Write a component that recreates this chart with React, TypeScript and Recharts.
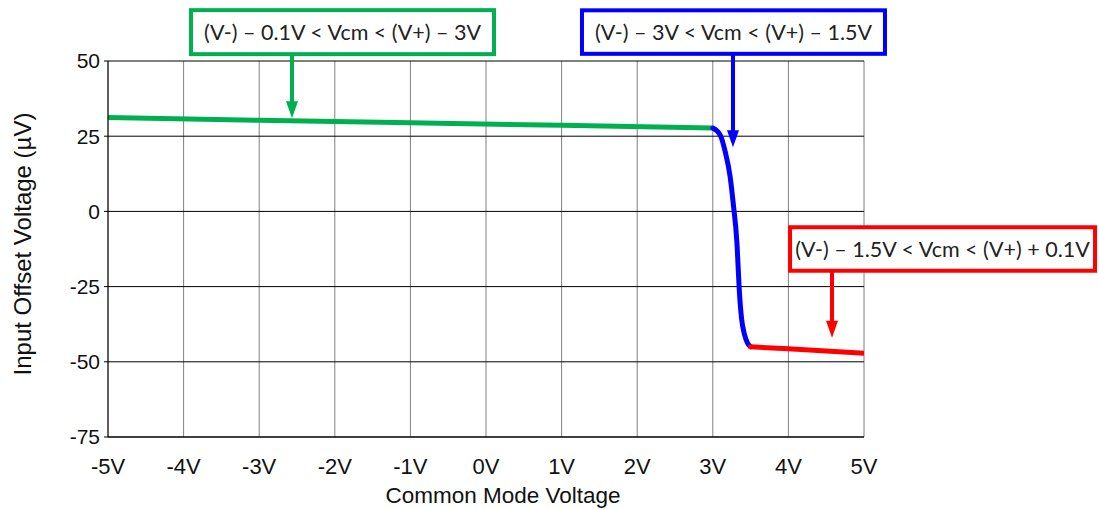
import React from 'react';
import { LineChart, Line, XAxis, YAxis, CartesianGrid, ReferenceDot } from 'recharts';

// Vcm (V) / Vos (uV), one array per region
const greenVcm = [-5, -3, -1, 1, 3];
const greenVos = [31.2, 30.3, 29.5, 28.6, 27.7];

const blueVcm = [3.0, 3.1, 3.16, 3.23, 3.27, 3.32, 3.35, 3.38, 3.42, 3.46, 3.5];
const blueVos = [27.7, 25.3, 20.3, 11.4, 2.7, -10.7, -26, -35.5, -41, -43.8, -45];

const redVcm = [3.5, 4, 4.5, 5];
const redVos = [-45, -45.7, -46.4, -47.2];

const xTicks = [-5, -4, -3, -2, -1, 0, 1, 2, 3, 4, 5];
const yTicks = [-75, -50, -25, 0, 25, 50];

// callout texts and where their arrows point (data coords)
const calloutText = [
  '(V-) – 0.1V < Vcm < (V+) – 3V',
  '(V-) – 3V < Vcm < (V+) – 1.5V',
  '(V-) – 1.5V < Vcm < (V+) + 0.1V',
];
const calloutVcm = [-2.566, 3.267, 4.577];
const calloutVos = [31, 21.3, -42];

const GREEN = '#00B050';
const BLUE = '#0000FF';
const RED = '#FF0000';
const calloutColor = [GREEN, BLUE, RED];
// box edges relative to arrow tip, px
const calloutBox = [
  { left: -101, right: 202, top: -108, bottom: -64 },
  { left: -151, right: 152, top: -137, bottom: -93.5 },
  { left: -42, right: 263, top: -110.5, bottom: -67 },
];

const toPoints = (xs: number[], ys: number[]) => xs.map((x, i) => ({ x, y: ys[i] }));

const greenData = toPoints(greenVcm, greenVos);
const blueData = toPoints(blueVcm, blueVos);
const redData = toPoints(redVcm, redVos);

const Callout = (props: any) => {
  const { cx, cy, color, text, box } = props;
  return (
    <g>
      <line x1={cx} y1={cy + box.bottom} x2={cx} y2={cy - 14} stroke={color} strokeWidth={4} />
      <polygon points={`${cx - 6},${cy - 17} ${cx + 6},${cy - 17} ${cx},${cy}`} fill={color} />
      <rect
        x={cx + box.left}
        y={cy + box.top}
        width={box.right - box.left}
        height={box.bottom - box.top}
        fill="#fff"
        stroke={color}
        strokeWidth={4}
      />
      <text
        x={cx + (box.left + box.right) / 2}
        y={cy + (box.top + box.bottom) / 2}
        dy="0.36em"
        textAnchor="middle"
        fontFamily="Lato, 'Open Sans', sans-serif"
        fontSize={21.5}
        fill="#222"
      >
        {text}
      </text>
    </g>
  );
};

export default function App() {
  return (
    <div style={{ position: 'absolute', left: 0, top: 0, background: '#fff' }}>
      <LineChart
        width={1099}
        height={509}
        margin={{ top: 61, right: 235, left: 48, bottom: 22 }}
        style={{ fontFamily: "'Liberation Sans', Arial, sans-serif" }}
      >
        <CartesianGrid horizontal={false} stroke="#808080" />
        <CartesianGrid vertical={false} stroke="#000" />
        <XAxis
          type="number"
          dataKey="x"
          domain={[-5, 5]}
          ticks={xTicks}
          allowDataOverflow
          interval={0}
          tickFormatter={(v) => `${v}V`}
          tick={{ fill: '#111', fontSize: 22 }}
          tickSize={0}
          tickMargin={21}
          axisLine={{ stroke: '#000' }}
          height={50}
          label={{
            content: (p: any) => (
              <text
                x={p.viewBox.x + p.viewBox.width / 2 + 17}
                y={p.viewBox.y + 66}
                textAnchor="middle"
                fontSize={22.5}
                fill="#111"
              >
                Common Mode Voltage
              </text>
            ),
          }}
        />
        <YAxis
          type="number"
          domain={[-75, 50]}
          ticks={yTicks}
          allowDataOverflow
          interval={0}
          tick={{ fill: '#111', fontSize: 21 }}
          tickSize={4}
          tickMargin={4}
          tickLine={{ stroke: '#000' }}
          axisLine={{ stroke: '#000' }}
          width={60}
          label={{
            content: (p: any) => (
              <text
                x={22}
                y={p.viewBox.y + p.viewBox.height / 2 - 5}
                transform={`rotate(-90 22 ${p.viewBox.y + p.viewBox.height / 2 - 5})`}
                dy="0.36em"
                textAnchor="middle"
                fontSize={24}
                fill="#111"
              >
                Input Offset Voltage (µV)
              </text>
            ),
          }}
        />
        <Line data={greenData} dataKey="y" type="linear" stroke={GREEN} strokeWidth={5} dot={false} isAnimationActive={false} />
        <Line data={blueData} dataKey="y" type="monotone" stroke={BLUE} strokeWidth={5} strokeLinecap="round" dot={false} isAnimationActive={false} />
        <Line data={redData} dataKey="y" type="linear" stroke={RED} strokeWidth={5} strokeLinecap="round" dot={false} isAnimationActive={false} />
        {calloutText.map((t, i) => (
          <ReferenceDot
            key={t}
            x={calloutVcm[i]}
            y={calloutVos[i]}
            ifOverflow="visible"
            shape={(p: any) => <Callout cx={p.cx} cy={p.cy} color={calloutColor[i]} text={t} box={calloutBox[i]} />}
          />
        ))}
      </LineChart>
    </div>
  );
}
